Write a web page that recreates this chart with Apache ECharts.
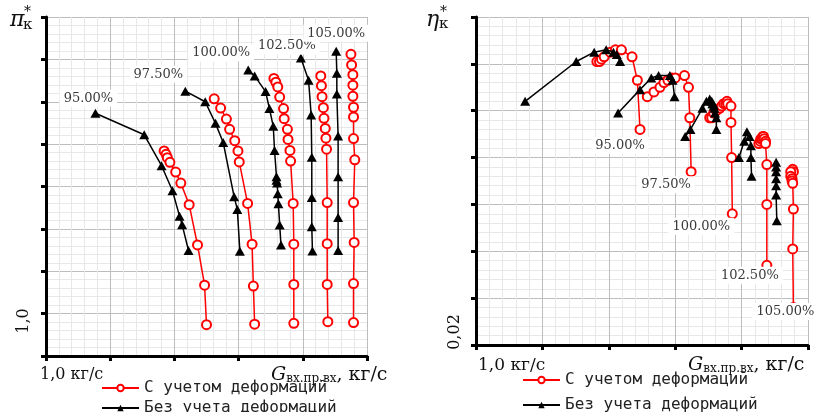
<!DOCTYPE html>
<html><head><meta charset="utf-8">
<script src="https://cdn.jsdelivr.net/npm/echarts@6/dist/echarts.min.js"></script>
<style>html,body{margin:0;padding:0;background:#fff}#c{width:814px;height:412px}</style>
</head><body><div id="c"></div><script>
// ---- data ----
const speeds = ['95.00%', '97.50%', '100.00%', '102.50%', '105.00%'];
const nameDef = 'С учетом деформаций';
const nameNoDef = 'Без учета деформаций';

// Left panel: pressure ratio vs corrected mass flow [G, pi]
const piDef95 = [[1.184,1.384],[1.187,1.376],[1.189,1.368],[1.193,1.357],[1.202,1.334],[1.210,1.308],[1.223,1.257],[1.236,1.162],[1.247,1.067],[1.250,0.974]];
const piNoDef95 = [[1.077,1.473],[1.153,1.422],[1.180,1.349],[1.197,1.290],[1.208,1.230],[1.212,1.210],[1.222,1.149]];
const piDef975 = [[1.262,1.507],[1.272,1.485],[1.281,1.459],[1.286,1.435],[1.294,1.408],[1.299,1.384],[1.301,1.358],[1.314,1.260],[1.321,1.164],[1.323,1.065],[1.325,0.975]];
const piNoDef975 = [[1.217,1.525],[1.248,1.500],[1.264,1.449],[1.276,1.404],[1.293,1.276],[1.298,1.246],[1.302,1.147]];
const piDef100 = [[1.355,1.555],[1.358,1.546],[1.361,1.535],[1.364,1.511],[1.370,1.484],[1.371,1.460],[1.376,1.435],[1.377,1.411],[1.380,1.385],[1.381,1.360],[1.385,1.260],[1.386,1.164],[1.386,1.069],[1.386,0.977]];
const piNoDef100 = [[1.315,1.575],[1.325,1.561],[1.342,1.524],[1.348,1.484],[1.354,1.442],[1.356,1.385],[1.359,1.323],[1.359,1.315],[1.360,1.308],[1.361,1.283],[1.362,1.259],[1.364,1.209],[1.366,1.162]];
const piDef1025 = [[1.428,1.561],[1.429,1.538],[1.430,1.512],[1.432,1.486],[1.433,1.461],[1.435,1.437],[1.436,1.414],[1.437,1.388],[1.438,1.262],[1.438,1.165],[1.438,1.069],[1.439,0.981]];
const piNoDef1025 = [[1.397,1.603],[1.409,1.551],[1.413,1.469],[1.414,1.369],[1.414,1.274],[1.414,1.205],[1.415,1.148]];
const piDef105 = [[1.475,1.612],[1.476,1.587],[1.478,1.564],[1.478,1.539],[1.478,1.513],[1.479,1.487],[1.479,1.464],[1.479,1.413],[1.481,1.363],[1.479,1.262],[1.480,1.168],[1.479,1.071],[1.479,0.979]];
const piNoDef105 = [[1.452,1.619],[1.453,1.567],[1.453,1.518],[1.455,1.419],[1.455,1.323],[1.455,1.227],[1.455,1.149]];

// Right panel: efficiency vs corrected mass flow [G, eta]
const etaDef95 = [[1.182,0.861],[1.186,0.861],[1.189,0.862],[1.193,0.863],[1.202,0.865],[1.210,0.866],[1.219,0.866],[1.235,0.863],[1.243,0.853],[1.247,0.832]];
const etaNoDef95 = [[1.074,0.844],[1.151,0.861],[1.178,0.865],[1.196,0.866],[1.207,0.865],[1.212,0.864],[1.217,0.861]];
const etaDef975 = [[1.258,0.846],[1.268,0.848],[1.277,0.850],[1.283,0.852],[1.289,0.853],[1.295,0.854],[1.300,0.854],[1.314,0.855],[1.320,0.850],[1.322,0.837],[1.324,0.814]];
const etaNoDef975 = [[1.214,0.839],[1.247,0.849],[1.264,0.854],[1.275,0.855],[1.292,0.855],[1.296,0.853],[1.299,0.846]];
const etaDef100 = [[1.352,0.837],[1.355,0.837],[1.358,0.839],[1.362,0.840],[1.367,0.841],[1.370,0.842],[1.373,0.843],[1.376,0.843],[1.378,0.844],[1.379,0.843],[1.384,0.842],[1.384,0.835],[1.385,0.820],[1.386,0.796]];
const etaNoDef100 = [[1.315,0.829],[1.323,0.832],[1.341,0.841],[1.347,0.844],[1.352,0.845],[1.355,0.844],[1.356,0.843],[1.357,0.843],[1.358,0.842],[1.359,0.841],[1.360,0.839],[1.362,0.837],[1.362,0.832]];
const etaDef1025 = [[1.426,0.826],[1.428,0.827],[1.429,0.828],[1.431,0.828],[1.432,0.829],[1.433,0.829],[1.434,0.828],[1.436,0.827],[1.436,0.826],[1.438,0.817],[1.438,0.800],[1.438,0.774]];
const etaNoDef1025 = [[1.396,0.820],[1.404,0.827],[1.408,0.831],[1.412,0.829],[1.414,0.825],[1.414,0.820],[1.415,0.812]];
const etaDef105 = [[1.477,0.815],[1.478,0.814],[1.474,0.814],[1.474,0.812],[1.476,0.811],[1.476,0.810],[1.477,0.809],[1.478,0.798],[1.477,0.781],[1.478,0.756]];
const etaNoDef105 = [[1.452,0.818],[1.452,0.816],[1.452,0.814],[1.452,0.811],[1.452,0.808],[1.452,0.804],[1.453,0.793]];

const piDef = [piDef95, piDef975, piDef100, piDef1025, piDef105];
const piNoDef = [piNoDef95, piNoDef975, piNoDef100, piNoDef1025, piNoDef105];
const etaDef = [etaDef95, etaDef975, etaDef100, etaDef1025, etaDef105];
const etaNoDef = [etaNoDef95, etaNoDef975, etaNoDef100, etaNoDef1025, etaNoDef105];

// ---- styling / layout ----
const leftLabelOffsets = [[-7,-15],[-27,-17],[-27,-17],[-14,-12],[0,-18]];
const rightLabelOffsets = [[-20,16],[-25,13],[-31,12.5],[-17,10],[-8,4]];

function valAxis(gridIndex, min, max, interval) {
  return {
    type: 'value', gridIndex, min, max, interval,
    axisLine: { show: true, onZero: false, lineStyle: { color: '#000', width: 3 } },
    axisTick: { show: true, length: 5, lineStyle: { color: '#000', width: 3 } },
    axisLabel: { show: false },
    splitLine: { show: true, lineStyle: { color: '#bdbdbd', width: 1 } },
    minorTick: { show: false, splitNumber: 5 },
    minorSplitLine: { show: true, lineStyle: { color: '#e8e8e8', width: 1 } }
  };
}

function pctLabel(text, offset) {
  return { show: true, position: 'inside', offset, formatter: text,
    fontFamily: 'DejaVu Serif', fontSize: 13, color: '#3a3a3a',
    backgroundColor: '#fff', padding: [2, 4] };
}

function lineSeries(data, isDef, axisIdx, labelIdx, labelText, offset) {
  const li = labelIdx < 0 ? data.length + labelIdx : labelIdx;
  return {
    type: 'line', name: isDef ? nameDef : nameNoDef,
    xAxisIndex: axisIdx, yAxisIndex: axisIdx,
    data: data.map((p, i) => i === li ? { value: p, label: pctLabel(labelText, offset) } : p),
    symbol: isDef ? 'emptyCircle' : 'triangle',
    symbolSize: isDef ? 9 : [10, 9],
    showAllSymbol: true,
    lineStyle: { color: isDef ? '#ff0000' : '#000', width: 1.5 },
    itemStyle: isDef ? { color: '#ff0000', borderColor: '#ff0000', borderWidth: 1.6 } : { color: '#000' },
    z: isDef ? 3 : 4,
    emphasis: { disabled: true },
    animation: false
  };
}

const series = [];
speeds.forEach((s, k) => {
  series.push(lineSeries(piDef[k], true, 0, -999, s, [0,0]));
  series.push(lineSeries(piNoDef[k], false, 0, 0, s, leftLabelOffsets[k]));
  series.push(lineSeries(etaDef[k], true, 1, -1, s, rightLabelOffsets[k]));
  series.push(lineSeries(etaNoDef[k], false, 1, -999, s, [0,0]));
});

const legendText = { fontFamily: 'DejaVu Sans Mono', fontSize: 16, color: '#222' };
function legendItem(name, left, top) {
  return { left, top, itemWidth: 37, itemHeight: 8, itemGap: 0, padding: 0,
    textStyle: legendText, data: [name], selectedMode: false };
}

const option = {
  backgroundColor: '#fff',
  animation: false,
  grid: [
    { left: 46, right: 447, top: 17, bottom: 56 },
    { left: 476, right: 6, top: 17, bottom: 67 }
  ],
  xAxis: [ valAxis(0, 1.0, 1.5, 0.1), valAxis(1, 1.0, 1.5, 0.1) ],
  yAxis: [ valAxis(0, 0.9, 1.7, 0.1), valAxis(1, 0.74, 0.88, 0.02) ],
  legend: [
    legendItem(nameDef, 101, 380),
    legendItem(nameNoDef, 101, 400),
    legendItem(nameDef, 522, 372),
    legendItem(nameNoDef, 522, 397)
  ],
  graphic: [
    { type: 'text', x: 10, y: 20, style: { text: 'π', font: 'italic 22px "DejaVu Serif"', fill: '#111', verticalAlign: 'middle' } },
    { type: 'text', x: 24, y: 12, style: { text: '*', font: '14px "DejaVu Serif"', fill: '#111', verticalAlign: 'middle' } },
    { type: 'text', x: 23, y: 25, style: { text: 'к', font: '15px "DejaVu Serif"', fill: '#111', verticalAlign: 'middle' } },
    { type: 'text', x: 426, y: 20, style: { text: 'η', font: 'italic 22px "DejaVu Serif"', fill: '#111', verticalAlign: 'middle' } },
    { type: 'text', x: 440, y: 12, style: { text: '*', font: '14px "DejaVu Serif"', fill: '#111', verticalAlign: 'middle' } },
    { type: 'text', x: 439, y: 24, style: { text: 'к', font: '15px "DejaVu Serif"', fill: '#111', verticalAlign: 'middle' } },
    { type: 'text', x: 24, y: 321, rotation: Math.PI / 2, style: { text: '1,0', font: '16px "DejaVu Serif"', fill: '#111', align: 'center', verticalAlign: 'middle' } },
    { type: 'text', x: 455, y: 332, rotation: Math.PI / 2, style: { text: '0,02', font: '16px "DejaVu Serif"', fill: '#111', align: 'center', verticalAlign: 'middle' } },
    { type: 'text', x: 40, y: 375, style: { text: '1,0 кг/с', font: '16px "DejaVu Serif"', fill: '#111', verticalAlign: 'middle' } },
    { type: 'text', x: 478, y: 366, style: { text: '1,0 кг/с', font: '17px "DejaVu Serif"', fill: '#111', verticalAlign: 'middle' } },
    { type: 'text', x: 271, y: 375, style: { text: '{g|G}{s|вх.пр.вх}{n|, кг/с}', verticalAlign: 'middle', fill: '#111',
        rich: { g: { font: 'italic 19px "DejaVu Serif"', fill: '#111', verticalAlign: 'bottom', lineHeight: 20 },
                s: { font: '12px "DejaVu Serif"', fill: '#111', verticalAlign: 'bottom', lineHeight: 20 },
                n: { font: '19px "DejaVu Serif"', fill: '#111', verticalAlign: 'bottom', lineHeight: 20 } } } },
    { type: 'text', x: 688, y: 365, style: { text: '{g|G}{s|вх.пр.вх}{n|, кг/с}', verticalAlign: 'middle', fill: '#111',
        rich: { g: { font: 'italic 19px "DejaVu Serif"', fill: '#111', verticalAlign: 'bottom', lineHeight: 20 },
                s: { font: '12px "DejaVu Serif"', fill: '#111', verticalAlign: 'bottom', lineHeight: 20 },
                n: { font: '19px "DejaVu Serif"', fill: '#111', verticalAlign: 'bottom', lineHeight: 20 } } } }
  ],
  series
};
const chart = echarts.init(document.getElementById('c'), null, { renderer: 'canvas' });
chart.setOption(option);
</script></body></html>
